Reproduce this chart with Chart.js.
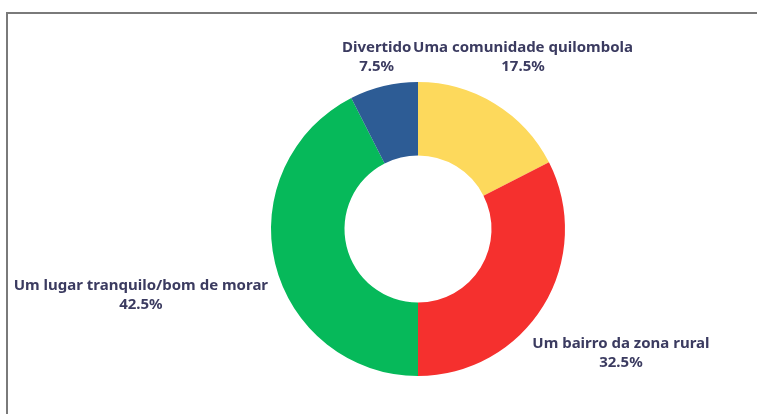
<!DOCTYPE html>
<html>
<head>
<meta charset="utf-8">
<script src="https://cdn.jsdelivr.net/npm/chart.js@4/dist/chart.umd.min.js"></script>
<style>
  html, body { margin: 0; padding: 0; background: #fff; }
  #wrap { position: relative; width: 757px; height: 414px; overflow: hidden; }
  #frame {
    position: absolute; left: 6px; top: 12px; width: 800px; height: 500px;
    border-top: 2px solid #7a7a7a; border-left: 2px solid #7a7a7a;
  }
  canvas { position: absolute; left: 0; top: 0; }
</style>
</head>
<body>
<div id="wrap">
  <div id="frame"></div>
  <canvas id="chart" width="757" height="414"></canvas>
</div>
<script>
// dados
const labels = ['Uma comunidade quilombola', 'Um bairro da zona rural', 'Um lugar tranquilo/bom de morar', 'Divertido'];
const values = [17.5, 32.5, 42.5, 7.5];
const colors = ['#fdd95c', '#f5302e', '#06b95a', '#2d5c95'];

// distância extra do rótulo além do raio externo
const labelGap = [54, 91, 138, 30];

const TEXT_COLOR = '#3b3b60';
const FONT = 'bold 15px "Noto Sans", "Open Sans", sans-serif';
const LINE_H = 19;

// plugin simples para desenhar rótulos fora das fatias
const outsideLabels = {
  id: 'outsideLabels',
  afterDatasetsDraw(chart) {
    const ctx = chart.ctx;
    const meta = chart.getDatasetMeta(0);
    ctx.save();
    ctx.font = FONT;
    ctx.fillStyle = TEXT_COLOR;
    ctx.textAlign = 'center';
    ctx.textBaseline = 'middle';
    meta.data.forEach((arc, i) => {
      const p = arc.getProps(['x', 'y', 'startAngle', 'endAngle', 'outerRadius'], true);
      const mid = (p.startAngle + p.endAngle) / 2;
      const r = p.outerRadius + labelGap[i];
      const cx = p.x + Math.cos(mid) * r;
      const cy = p.y + Math.sin(mid) * r;
      ctx.fillText(labels[i], cx, cy - LINE_H / 2);
      ctx.fillText(values[i].toFixed(1) + '%', cx, cy + LINE_H / 2);
    });
    ctx.restore();
  }
};

new Chart(document.getElementById('chart'), {
  type: 'doughnut',
  data: {
    labels,
    datasets: [{
      data: values,
      backgroundColor: colors,
      borderWidth: 0
    }]
  },
  options: {
    responsive: false,
    animation: false,
    cutout: '50%',
    layout: { padding: { top: 82, bottom: 38, left: 79, right: 0 } },
    plugins: {
      legend: { display: false },
      tooltip: { enabled: false }
    }
  },
  plugins: [outsideLabels]
});
</script>
</body>
</html>
